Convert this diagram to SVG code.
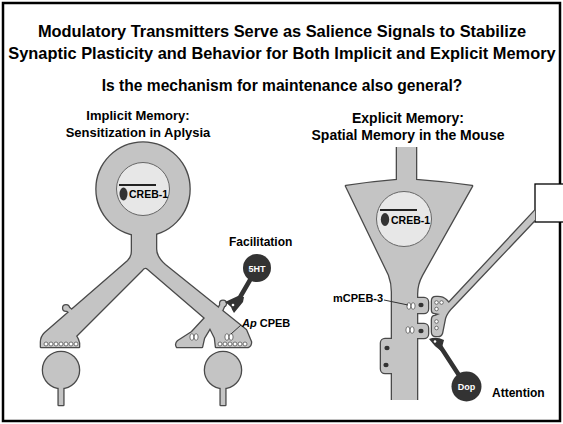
<svg xmlns="http://www.w3.org/2000/svg" xmlns:xlink="http://www.w3.org/1999/xlink" width="563" height="424" viewBox="0 0 563 424">
  <style>
    text { font-family: "Liberation Sans", Arial, sans-serif; font-weight: bold; fill: #000; }
    .title { font-size: 16.4px; text-anchor: middle; }
    .q { font-size: 15.6px; text-anchor: middle; }
    .subl { font-size: 13px; text-anchor: middle; }
    .subr { font-size: 14px; text-anchor: middle; }
    .lbl { font-size: 12px; }
    .creb { font-size: 10.5px; }
    .tx { fill: #fff; font-size: 9px; text-anchor: middle; }
    .edge { fill: #c4c4c4; stroke: #4a4a4a; stroke-width: 2.6; stroke-linejoin: round; }
    .body { fill: #c4c4c4; stroke: none; }
    .nuc { fill: #e7e7e7; stroke: #666; stroke-width: 1; }
    .dark { fill: #333; }
    .ves { fill: #fff; stroke: #555; stroke-width: 0.8; }
    .lead { stroke: #333; stroke-width: 1; fill: none; }
  </style>
  <defs>
    <!-- sensory neuron of Aplysia: soma, stem and two branching axons -->
    <g id="aplysia-shape">
      <circle cx="143" cy="189" r="46.5"/>
      <path d="M 132,226 L 132,251 Q 132,257 128,261 L 45,333 Q 41,337 41,342 L 41,347 L 79,347 L 79,343 Q 78,339 76,336 L 142,270 Q 145,266 148,269 L 205,318 L 192,332 L 178,341 Q 175,344 177,347 L 202,347 L 204,338 L 210,328 L 215,338 L 216,347 L 248,347 Q 251,346 251,342 L 246,330 L 165,265 Q 156,257 156,249 L 156,226 Z"/>
      <circle cx="66" cy="308" r="2.8"/>
      <path d="M 71,314 L 65,309 L 67,306 L 73,311 Z"/>
      <circle cx="223" cy="303.5" r="2.8"/>
      <path d="M 218,309 L 222,302 L 225,304 L 222,311 Z"/>
    </g>
    <!-- follower cell below each terminal -->
    <g id="follower">
      <circle cx="0" cy="0" r="18"/>
      <rect x="-2.3" y="10" width="4.6" height="25"/>
    </g>
    <!-- hippocampal pyramidal cell -->
    <g id="pyramid-shape">
      <path d="M 397,140 L 397,180 Q 372,182 346,186 L 389,275 Q 392,283 392,292 L 392,410 L 417,410 L 417,294 Q 417,284 422,275 L 472,186 Q 444,182 416,180 L 416,140 Z"/>
      <rect x="381" y="339" width="15" height="34" rx="4"/>
      <rect x="412" y="298" width="16" height="15" rx="4"/>
      <rect x="412" y="324" width="16" height="14" rx="4"/>
    </g>
    <!-- incoming axon with its forked terminal -->
    <g id="axon-shape">
      <path d="M 536,209.5 L 448.8,303 L 446,300 Q 443,297 438,297 L 436,297 Q 432,297 432,301 L 432,310 Q 432,313 435,313 L 440,314 L 435,316 Q 432,316 432,320 L 432,332 Q 432,336 436,336 L 438,336 Q 441,336 442,333 L 445,318 Q 447,312 452.8,306.5 L 540,214.5 Z"/>
    </g>
    <clipPath id="pyr-clip">
      <rect x="300" y="147" width="200" height="253"/>
    </clipPath>
    <clipPath id="axon-clip">
      <rect x="400" y="150" width="135" height="200"/>
    </clipPath>
    <g id="pair">
      <ellipse cx="-2.1" cy="0" rx="2" ry="3.3"/>
      <ellipse cx="2.1" cy="0" rx="2" ry="3.3"/>
    </g>
  </defs>

  <rect width="563" height="424" fill="#fff"/>
  <rect x="3" y="3" width="557" height="418" fill="none" stroke="#000" stroke-width="2.5"/>

  <g id="headings">
    <text class="title" x="282" y="37">Modulatory Transmitters Serve as Salience Signals to Stabilize</text>
    <text class="title" x="282" y="59">Synaptic Plasticity and Behavior for Both Implicit and Explicit Memory</text>
    <text class="q" x="282" y="91">Is the mechanism for maintenance also general?</text>
    <text class="subl" x="138" y="120">Implicit Memory:</text>
    <text class="subl" x="138" y="137">Sensitization in Aplysia</text>
    <text class="subr" x="408" y="123">Explicit Memory:</text>
    <text class="subr" x="408" y="140">Spatial Memory in the Mouse</text>
  </g>

  <!-- Aplysia circuit -->
  <g id="aplysia-neuron">
    <use xlink:href="#aplysia-shape" class="edge"/>
    <use xlink:href="#aplysia-shape" class="body"/>
    <circle class="nuc" cx="143" cy="189" r="26.5"/>
    <line x1="119" y1="185" x2="156" y2="185" stroke="#222" stroke-width="1.8"/>
    <ellipse class="dark" cx="123.5" cy="194" rx="4" ry="6.5"/>
    <text class="creb" x="129" y="198">CREB-1</text>
    <g class="ves">
      <circle cx="46" cy="344" r="2"/><circle cx="51" cy="344" r="2"/><circle cx="56" cy="344" r="2"/>
      <circle cx="61" cy="344" r="2"/><circle cx="66" cy="344" r="2"/><circle cx="71" cy="344" r="2"/>
      <circle cx="76" cy="344" r="2"/>
      <circle cx="220" cy="344" r="2"/><circle cx="225" cy="344" r="2"/><circle cx="230" cy="344" r="2"/>
      <circle cx="235" cy="344" r="2"/><circle cx="240" cy="344" r="2"/><circle cx="245" cy="344" r="2"/>
      <use xlink:href="#pair" x="194" y="337"/>
      <use xlink:href="#pair" x="229" y="337"/>
    </g>
  </g>

  <g id="follower-left">
    <use xlink:href="#follower" x="61" y="370" class="edge"/>
    <use xlink:href="#follower" x="61" y="370" class="body"/>
  </g>
  <g id="follower-right">
    <use xlink:href="#follower" x="223" y="370" class="edge"/>
    <use xlink:href="#follower" x="223" y="370" class="body"/>
  </g>

  <g id="serotonin">
    <text class="lbl" x="229" y="246">Facilitation</text>
    <line x1="257" y1="268" x2="239" y2="299" stroke="#333" stroke-width="4.5" stroke-linecap="round"/>
    <path class="dark" d="M 244,297 L 238,296 L 225,302 Q 229,305 231,307 Q 232,310 234,313 L 243,302 Z"/>
    <circle cx="233" cy="305" r="1.3" fill="#fff"/>
    <circle class="dark" cx="257" cy="268" r="14"/>
    <text class="tx" x="257" y="271.5">5HT</text>
  </g>

  <g id="ap-cpeb">
    <text class="lbl" x="242" y="327" style="font-size:11px"><tspan font-style="italic">Ap</tspan> CPEB</text>
  </g>

  <!-- Mouse hippocampal circuit -->
  <g id="pyramidal-neuron">
    <use xlink:href="#pyramid-shape" class="edge" clip-path="url(#pyr-clip)"/>
    <use xlink:href="#pyramid-shape" class="body" clip-path="url(#pyr-clip)"/>
    <circle class="nuc" cx="404" cy="219" r="27.5"/>
    <line x1="380" y1="210" x2="417" y2="210" stroke="#222" stroke-width="1.8"/>
    <ellipse class="dark" cx="385" cy="219.5" rx="4.2" ry="6.5"/>
    <text class="creb" x="391" y="224">CREB-1</text>
    <ellipse class="dark" cx="421" cy="305" rx="2.6" ry="2.2"/>
    <ellipse class="dark" cx="421" cy="331" rx="2.6" ry="2.2"/>
    <ellipse class="dark" cx="387" cy="348" rx="2.6" ry="2.2"/>
    <ellipse class="dark" cx="386" cy="365" rx="2.6" ry="2.2"/>
    <g class="ves">
      <use xlink:href="#pair" x="411" y="306"/>
      <use xlink:href="#pair" x="410" y="330"/>
    </g>
  </g>

  <g id="input-box">
    <rect x="535" y="184" width="30" height="38" fill="#fff" stroke="#000" stroke-width="1.3"/>
  </g>

  <g id="input-axon">
    <use xlink:href="#axon-shape" class="edge" clip-path="url(#axon-clip)"/>
    <use xlink:href="#axon-shape" class="body" clip-path="url(#axon-clip)"/>
    <g class="ves">
      <circle cx="436.5" cy="302.5" r="1.8"/><circle cx="441.5" cy="302.5" r="1.8"/><circle cx="436.5" cy="309" r="1.8"/>
      <circle cx="436.5" cy="321.5" r="1.8"/><circle cx="436.5" cy="328" r="1.8"/>
    </g>
  </g>

  <g id="dopamine">
    <line x1="440" y1="346" x2="466" y2="386" stroke="#333" stroke-width="4.5" stroke-linecap="round"/>
    <path class="dark" d="M 429,339 Q 436,336 444,340 L 441,351 Q 434,346 429,339 Z"/>
    <circle cx="435" cy="341.5" r="1.3" fill="#fff"/>
    <circle class="dark" cx="466.5" cy="386.5" r="15"/>
    <text class="tx" x="466.5" y="390">Dop</text>
    <text class="lbl" x="492" y="397">Attention</text>
  </g>

  <g id="mcpeb3">
    <text class="lbl" x="333" y="302" style="font-size:11px">mCPEB-3</text>
  </g>

  <!-- label leader lines -->
  <g id="connectors">
    <path class="lead" d="M 384,300 L 408,305"/>
    <path class="lead" d="M 241,325 L 231,334"/>
  </g>
</svg>
